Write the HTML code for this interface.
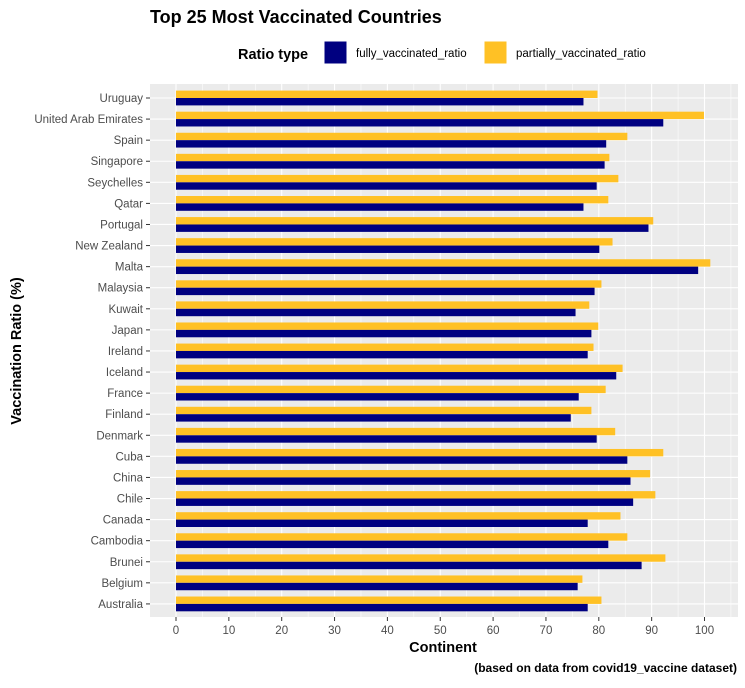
<!DOCTYPE html>
<html><head><meta charset="utf-8"><style>
body{margin:0;background:#fff;font-family:"Liberation Sans",Arial,sans-serif}
svg text{font-family:"Liberation Sans",Arial,sans-serif}
</style></head><body>
<svg id="chart" width="745" height="683" xmlns="http://www.w3.org/2000/svg">
<text x="150" y="23" font-size="18" font-weight="bold" fill="#000">Top 25 Most Vaccinated Countries</text>
<g>
<text x="238" y="59" font-size="14.5" font-weight="bold">Ratio type</text>
<rect x="324" y="41" width="23" height="23" fill="#000080" stroke="#fff"/>
<text x="356" y="57" font-size="11.5" fill="#000">fully_vaccinated_ratio</text>
<rect x="484" y="41" width="23" height="23" fill="#FFC125" stroke="#fff"/>
<text x="516" y="57" font-size="11.5" fill="#000">partially_vaccinated_ratio</text>
</g>
<rect x="150" y="84" width="588" height="533" fill="#ebebeb"/>
<g id="grid"></g><g id="bars"></g><g id="axes"></g>
<text x="443" y="652" font-size="14.5" font-weight="bold" text-anchor="middle">Continent</text>
<text transform="translate(21,351) rotate(-90)" font-size="14.5" font-weight="bold" text-anchor="middle">Vaccination Ratio (%)</text>
<text x="737" y="672" font-size="12" font-weight="bold" text-anchor="end">(based on data from covid19_vaccine dataset)</text>
</svg>
<script>
const countries=["Uruguay","United Arab Emirates","Spain","Singapore","Seychelles","Qatar","Portugal","New Zealand","Malta","Malaysia","Kuwait","Japan","Ireland","Iceland","France","Finland","Denmark","Cuba","China","Chile","Canada","Cambodia","Brunei","Belgium","Australia"];
const fullyValues=[77.1,92.2,81.4,81.1,79.6,77.1,89.4,80.1,98.8,79.2,75.6,78.6,77.9,83.3,76.2,74.7,79.6,85.4,86.0,86.5,77.9,81.8,88.1,76.0,77.9];
const partialValues=[79.75,99.9,85.4,82.0,83.7,81.8,90.3,82.6,101.1,80.5,78.2,79.9,79.0,84.5,81.3,78.6,83.1,92.2,89.7,90.7,84.1,85.4,92.6,76.9,80.5];
const xTicks=[0,10,20,30,40,50,60,70,80,90,100];
const NS="http://www.w3.org/2000/svg";
const x=v=>176+v*5.285;
const y=i=>98+i*21.08;
const bw=7.4;
function mk(t,a,p){const e=document.createElementNS(NS,t);for(const k in a)e.setAttribute(k,a[k]);p.appendChild(e);return e;}
const grid=document.getElementById('grid'),bars=document.getElementById('bars'),axes=document.getElementById('axes');
for(let v=-5;v<=105;v+=5){const major=v%10===0;
const l=mk('line',{x1:x(v),x2:x(v),y1:84,y2:617,stroke:'#fff','stroke-width':major?1.1:0.55},grid);

}
countries.forEach((c,i)=>{
const g=mk('line',{x1:150,x2:738,y1:y(i),y2:y(i),stroke:'#fff','stroke-width':1.1},grid);


const p=mk('rect',{x:x(0),y:y(i)-bw,width:x(partialValues[i])-x(0),height:bw,fill:'#FFC125'},bars);


const f=mk('rect',{x:x(0),y:y(i),width:x(fullyValues[i])-x(0),height:bw,fill:'#000080'},bars);


const t=mk('text',{x:143,y:y(i)+4,'font-size':11.5,fill:'#4d4d4d','text-anchor':'end'},axes);t.textContent=c;


mk('line',{x1:146,x2:150,y1:y(i),y2:y(i),stroke:'#333'},axes);
});
xTicks.forEach(v=>{
mk('line',{x1:x(v),x2:x(v),y1:617,y2:621,stroke:'#333'},axes);
const t=mk('text',{x:x(v),y:634,'font-size':11.5,fill:'#4d4d4d','text-anchor':'middle'},axes);t.textContent=v;


});
</script>
</body></html>
